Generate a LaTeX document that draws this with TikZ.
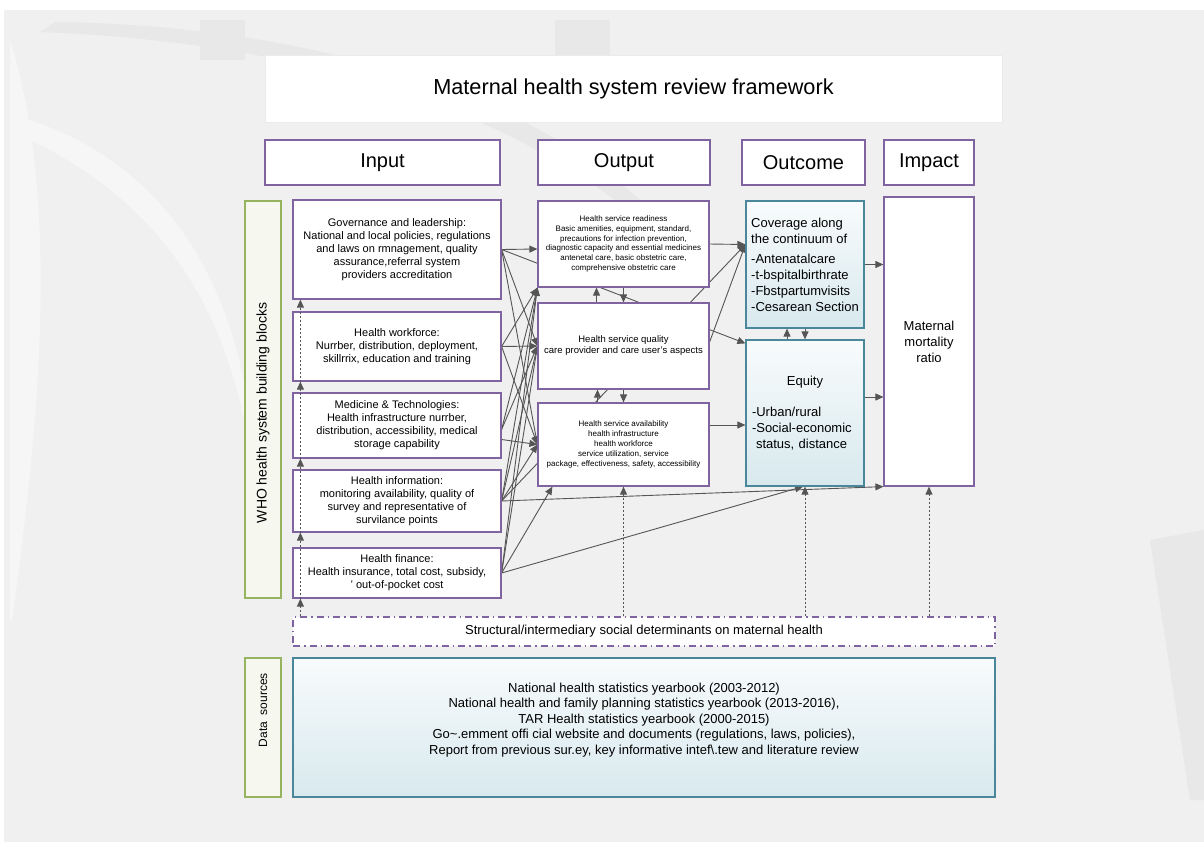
\documentclass[tikz,border=0pt]{standalone}
\usepackage{fontspec}
\setmainfont{Liberation Sans}
\usetikzlibrary{arrows.meta}
\definecolor{boxpurple}{RGB}{128,100,162}
\definecolor{boxteal}{RGB}{75,135,155}
\definecolor{leafgreen}{RGB}{150,180,95}
\definecolor{leaffill}{RGB}{246,248,240}
\definecolor{linkgray}{RGB}{85,85,85}
\definecolor{canvas}{RGB}{240,240,240}
\definecolor{swoosh}{RGB}{232,232,232}
\definecolor{glare}{RGB}{246,246,246}
\definecolor{icetop}{RGB}{248,251,252}
\definecolor{icebottom}{RGB}{216,233,238}

\pgfdeclarelayer{back}
\pgfdeclarelayer{links}
\pgfsetlayers{back,links,main}

\tikzset{
  frame/.style   ={draw=boxpurple, line width=1.2pt, fill=white, inner sep=1pt, align=center},
  headbox/.style ={frame, font=\fontsize{20}{24}\selectfont},
  inbox/.style   ={frame, font=\fontsize{11}{13}\selectfont},
  outbox/.style  ={frame, font=\fontsize{8}{9.8}\selectfont},
  icebox/.style  ={draw=boxteal, line width=1.2pt, top color=icetop, bottom color=icebottom,
                   inner sep=1pt, font=\fontsize{13}{16}\selectfont},
  leafbox/.style ={draw=leafgreen, line width=1.2pt, fill=leaffill},
  link/.style    ={draw=linkgray, line width=0.9pt, -{Triangle[length=8pt,width=7pt]}},
  dotlink/.style ={link, dash pattern=on 2pt off 2pt},
}

\begin{document}
\begin{tikzpicture}[x=1pt,y=-1pt]
\useasboundingbox (0,0) rectangle (1204,855);

% background
\begin{pgfonlayer}{back}
  \fill[canvas] (4,10) rectangle (1204,842);
  \fill[swoosh] (55,22) .. controls (300,25) and (520,90) .. (640,200)
                -- (615,200) .. controls (480,100) and (290,42) .. (40,32) -- cycle;
  \fill[swoosh] (200,20) rectangle (245,60);
  \fill[swoosh] (555,20) rectangle (610,60);
  \fill[glare]  (10,40) .. controls (60,200) and (40,420) .. (12,620) -- (10,620) -- cycle;
  \fill[glare]  (30,120) .. controls (150,160) and (230,260) .. (250,420)
                -- (244,420) .. controls (215,280) and (140,190) .. (20,135) -- cycle;
  \fill[swoosh] (1150,540) -- (1204,530) -- (1204,800) -- (1190,800) -- cycle;
\end{pgfonlayer}

% title and column heads
\node[fill=white, draw=white!92!black, minimum width=737pt, minimum height=67pt,
      font=\fontsize{21.7}{26}\selectfont] (title) at (633.5,88.5) {Maternal health system review framework};
\node[headbox, minimum width=235pt, minimum height=45pt] (hinput)   at (382.5,162.5) {Input};
\node[headbox, minimum width=172pt, minimum height=45pt] (houtput)  at (624.0,162.5) {Output};
\node[headbox, minimum width=123pt, minimum height=45pt] (houtcome) at (803.5,162.5) {Outcome};
\node[headbox, minimum width=90pt,  minimum height=45pt] (himpact)  at (929.0,162.5) {Impact};

% building blocks
\node[leafbox, minimum width=36pt, minimum height=397pt] (whobox) at (263,399.5) {};
\node[rotate=90, font=\fontsize{14}{16}\selectfont] (whotext) at (263,413) {WHO health system building blocks};

\node[inbox, minimum width=208pt, minimum height=99pt] (gov)  at (397,249.5)
     {Governance and leadership:\\National and local policies, regulations\\and laws on rmnagement, quality\\assurance,referral system\\providers accreditation};
\node[inbox, minimum width=208pt, minimum height=69pt] (work) at (397,346.5)
     {Health workforce:\\Nurrber, distribution, deployment,\\skillrrix, education and training};
\node[inbox, minimum width=208pt, minimum height=65pt] (med)  at (397,425.5)
     {Medicine \& Technologies:\\Health infrastructure nurrber,\\distribution, accessibility, medical\\storage capability};
\node[inbox, minimum width=208pt, minimum height=62pt] (info) at (397,501)
     {Health information:\\monitoring availability, quality of\\survey and representative of\\survilance points};
\node[inbox, minimum width=208pt, minimum height=50pt] (fin)  at (397,573)
     {Health finance:\\Health insurance, total cost, subsidy,\\' out-of-pocket cost};

% outputs
\node[outbox, minimum width=171pt, minimum height=86pt] (ready) at (623.5,244)
     {Health service readiness\\Basic amenities, equipment, standard,\\precautions for infection prevention,\\diagnostic capacity and essential medicines\\antenetal care, basic obstetric care,\\comprehensive obstetric care};
\node[frame, minimum width=171pt, minimum height=86pt, font=\fontsize{9.5}{11}\selectfont] (qual) at (623.5,346)
     {Health service quality\\care provider and care user's aspects};
\node[outbox, minimum width=171pt, minimum height=83pt] (avail) at (623.5,444.5)
     {Health service availability\\health infrastructure\\health workforce\\service utilization, service\\package, effectiveness, safety, accessibility};

% outcomes and impact
\node[icebox, minimum width=118pt, minimum height=127pt, align=left] (cover) at (805,264.5)
     {Coverage along\\the continuum of\\[4pt]-Antenatalcare\\-t-bspitalbirthrate\\-Fbstpartumvisits\\-Cesarean Section};
\node[icebox, minimum width=118pt, minimum height=146pt, text width=106pt, align=left] (equity) at (805,413)
     {{\centering Equity\par}\vspace{15pt}-Urban/rural\\-Social-economic\\\hspace*{4pt}status, distance};
\node[frame, minimum width=90pt, minimum height=289pt, font=\fontsize{13}{16}\selectfont] (impact) at (929,341.5)
     {Maternal\\mortality\\ratio};

% determinants and data
\node[draw=boxpurple, line width=1.2pt, dash pattern=on 7pt off 4pt on 1.5pt off 4pt, fill=white,
      minimum width=702pt, minimum height=29pt, font=\fontsize{13}{15}\selectfont] (det) at (644,631.5)
     {Structural/intermediary social determinants on maternal health};
\node[leafbox, minimum width=36pt, minimum height=139pt] (databox) at (263,727.5) {};
\node[rotate=90, font=\fontsize{12}{14}\selectfont] (datatext) at (263,710) {Data\ \ sources};
\node[icebox, minimum width=702pt, minimum height=139pt, align=center, font=\fontsize{13}{15.5}\selectfont] (data) at (644,727.5)
     {National health statistics yearbook (2003-2012)\\
      National health and family planning statistics yearbook (2013-2016),\\
      TAR Health statistics yearbook (2000-2015)\\
      Go\textasciitilde.emment offi cial website and documents (regulations, laws, policies),\\
      Report from previous sur.ey, key informative intef\textbackslash.tew and literature review\\[2.5pt]};

% connectors under the boxes
\begin{pgfonlayer}{links}
  \draw[link] (gov.east) -- ([yshift=-5pt]ready.west);
  \draw[link] (gov.east) -- (qual.west);
  \draw[link] (gov.east) -- (avail.west);
  \draw[link] (gov.east) -- ([yshift=-4pt]equity.north west);
  \draw[link] (work.east) -- (ready.south west);
  \draw[link] (work.east) -- (qual.west);
  \draw[link] (work.east) -- (avail.west);
  \draw[link] ([yshift=-4pt]med.east) -- (ready.south west);
  \draw[link] ([yshift=-4pt]med.east) -- (qual.west);
  \draw[link] ([yshift=-14pt]med.east) -- (avail.west);
  \draw[link] (info.east) -- (ready.south west);
  \draw[link] (info.east) -- (qual.west);
  \draw[link] (info.east) -- (avail.west);
  \draw[link] (info.east) -- ([yshift=20pt]cover.west);
  \draw[link] (info.east) -- (impact.south west);
  \draw[link] (fin.east) -- (ready.south west);
  \draw[link] (fin.east) -- (qual.west);
  \draw[link] (fin.east) -- ([xshift=15pt]avail.south west);
  \draw[link] (fin.east) -- ([xshift=-2pt]equity.south);
  \draw[link] (ready.east) -- ([yshift=20pt]cover.west);
  \draw[link] ([yshift=4pt]qual.east) -- ([yshift=20pt]cover.west);
  \draw[link] ([yshift=19.5pt]avail.east) -- ([yshift=-12pt]equity.west);
  \draw[link] (cover.east) -- (cover.east -| impact.west);
  \draw[link] ([yshift=16pt]equity.east) -- ([yshift=16pt]equity.east -| impact.west);
  \draw[link] ([xshift=-27pt]qual.north) -- ([xshift=-27pt]ready.south);
  \draw[link] (ready.south) -- (qual.north);
  \draw[link] ([xshift=-26pt]avail.north) -- ([xshift=-26pt]qual.south);
  \draw[link] (qual.south) -- (avail.north);
  \draw[link] ([xshift=-18pt]equity.north) -- ([xshift=-18pt]cover.south);
  \draw[link] (cover.south) -- (equity.north);
\end{pgfonlayer}

% dotted feeds from the determinants
\draw[dotlink] ([xshift=8pt]det.north west) -- ([xshift=8pt]fin.south west);
\draw[dotlink] ([xshift=8pt]fin.south west) -- ([xshift=8pt]info.south west);
\draw[dotlink] ([xshift=8pt]info.south west) -- ([xshift=8pt]med.south west);
\draw[dotlink] ([xshift=8pt]med.south west) -- ([xshift=8pt]work.south west);
\draw[dotlink] ([xshift=8pt]work.south west) -- ([xshift=8pt]gov.south west);
\draw[dotlink] (det.north -| avail.south) -- (avail.south);
\draw[dotlink] (det.north -| equity.south) -- (equity.south);
\draw[dotlink] (det.north -| impact.south) -- (impact.south);
\end{tikzpicture}
\end{document}
